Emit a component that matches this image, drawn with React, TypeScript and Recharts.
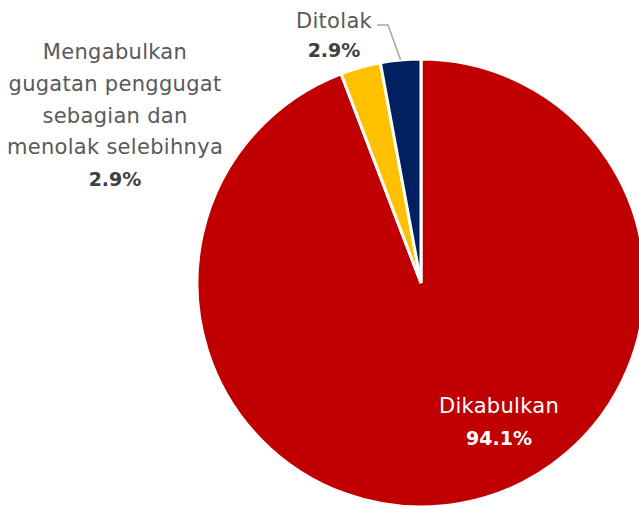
import { PieChart, Pie, Cell } from 'recharts'

const categories = [
  'Dikabulkan',
  'Mengabulkan gugatan penggugat sebagian dan menolak selebihnya',
  'Ditolak',
]
const shares = [94.1, 2.9, 2.9]
const labelLines = [
  ['Dikabulkan'],
  ['Mengabulkan', 'gugatan penggugat', 'sebagian dan', 'menolak selebihnya'],
  ['Ditolak'],
]

const colors = ['#C00000', '#FFC000', '#002060']
const FONT = '"DejaVu Sans", sans-serif'

const data = categories.map((name, i) => ({ name, value: shares[i] }))

const RADIAN = Math.PI / 180

function renderLabel(props: any) {
  const { cx, cy, midAngle, outerRadius, index, value } = props
  const lines = labelLines[index]
  const pct = value.toFixed(1) + '%'

  let x = 0
  let y = 0
  let step = 32
  let nameFill = '#595959'
  let pctFill = '#404040'
  let extra = null

  if (index === 0) {
    x = cx + 78
    y = cy + 130
    nameFill = '#ffffff'
    pctFill = '#ffffff'
  } else if (index === 1) {
    x = cx - 306
    y = cy - 224
    step = 31.8
  } else {
    x = cx - 87
    y = cy - 255
    step = 29
    const sx = cx + outerRadius * Math.cos(-midAngle * RADIAN)
    const sy = cy + outerRadius * Math.sin(-midAngle * RADIAN)
    extra = (
      <polyline
        points={`${sx},${sy} ${cx - 33},${cy - 258} ${cx - 44},${cy - 258}`}
        fill="none"
        stroke="#a6a6a6"
        strokeWidth={1.5}
      />
    )
  }

  return (
    <g key={`lbl-${index}`}>
      {extra}
      {lines.map((t, i) => (
        <text
          key={i}
          x={x}
          y={y + i * step}
          textAnchor="middle"
          fill={nameFill}
          fontFamily={FONT}
          fontSize={21}
          letterSpacing={0.3}
        >
          {t}
        </text>
      ))}
      <text
        x={x}
        y={y + lines.length * step}
        textAnchor="middle"
        fill={pctFill}
        fontFamily={FONT}
        fontSize={19}
        fontWeight={700}
      >
        {pct}
      </text>
    </g>
  )
}

export default function App() {
  return (
    <div
      style={{
        position: 'absolute',
        left: 0,
        top: 0,
        width: 639,
        height: 507,
        overflow: 'hidden',
        background: '#fff',
      }}
    >
      <PieChart width={639} height={507} margin={{ top: 0, right: 0, bottom: 0, left: 0 }}>
        <Pie
          data={data}
          dataKey="value"
          nameKey="name"
          cx={421}
          cy={283}
          outerRadius={224}
          startAngle={90}
          endAngle={-270}
          stroke="#ffffff"
          strokeWidth={3}
          label={renderLabel}
          labelLine={false}
          isAnimationActive={false}
        >
          {data.map((_, i) => (
            <Cell key={i} fill={colors[i]} />
          ))}
        </Pie>
      </PieChart>
    </div>
  )
}
